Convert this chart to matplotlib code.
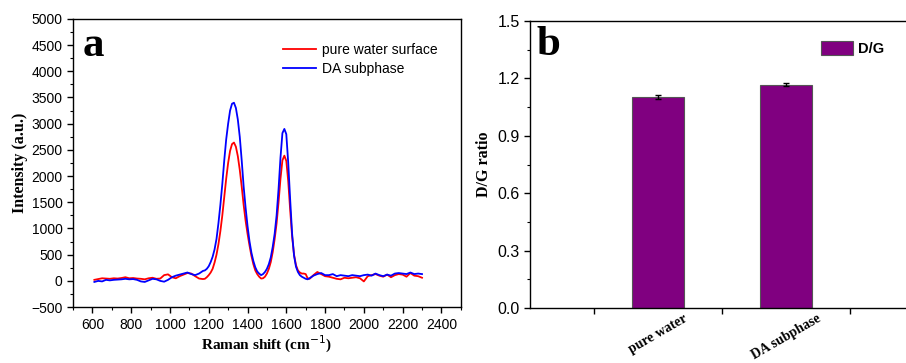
import numpy as np
import matplotlib.pyplot as plt
from matplotlib.ticker import MultipleLocator

# Raman spectra
shift = [610, 630, 650, 670, 690, 710, 730, 750, 770, 790, 810, 830, 850, 870, 890,
         910, 930, 950, 970, 990, 1010, 1030, 1050, 1070, 1090, 1110, 1130, 1150, 1170,
         1180, 1190, 1200, 1210, 1220, 1230, 1240, 1250, 1260, 1270, 1280, 1290, 1300,
         1310, 1320, 1330, 1340, 1350, 1360, 1370, 1380, 1390, 1400, 1410, 1420, 1430,
         1440, 1450, 1460, 1470, 1480, 1490, 1500, 1510, 1520, 1530, 1540, 1550, 1560,
         1570, 1580, 1590, 1600, 1610, 1620, 1630, 1640, 1650, 1660, 1670, 1680, 1690,
         1700, 1710, 1720, 1740, 1760, 1780, 1800, 1820, 1840, 1860, 1880, 1900, 1920,
         1940, 1960, 1980, 2000, 2020, 2040, 2060, 2080, 2100, 2120, 2140, 2160, 2180,
         2200, 2220, 2240, 2260, 2280, 2300]

pure_water = [20, 35, 50, 45, 40, 50, 45, 55, 70, 50, 55, 45, 40, 30, 50,
              60, 40, 45, 110, 125, 70, 50, 90, 120, 150, 140, 90, 45, 35,
              40, 70, 110, 160, 230, 350, 500, 700, 950, 1250, 1600, 1950, 2250,
              2480, 2610, 2640, 2560, 2380, 2120, 1800, 1450, 1150, 900, 680, 480, 320,
              200, 130, 80, 45, 50, 80, 140, 230, 360, 550, 800, 1100, 1500,
              1950, 2300, 2390, 2290, 1900, 1350, 850, 500, 300, 200, 160, 140, 140,
              130, 50, 40, 110, 170, 130, 90, 80, 60, 40, 30, 60, 50,
              60, 70, 50, -10, 90, 110, 130, 100, 80, 120, 70, 110, 130,
              120, 80, 150, 100, 90, 60]

da_subphase = [-20, 0, -10, 20, 10, 20, 25, 30, 40, 30, 35, 20, -10, -20, 10,
               40, 30, 0, -15, 20, 70, 100, 120, 140, 160, 130, 110, 140, 190,
               200, 230, 280, 360, 460, 600, 800, 1100, 1450, 1850, 2300, 2700, 3000,
               3250, 3380, 3400, 3300, 3080, 2750, 2300, 1800, 1400, 1050, 760, 540, 380,
               260, 180, 140, 110, 130, 170, 230, 320, 450, 650, 900, 1250, 1750,
               2350, 2820, 2900, 2800, 2250, 1550, 900, 480, 270, 170, 110, 80, 60,
               40, 30, 50, 100, 130, 150, 110, 110, 130, 90, 110, 100, 90,
               110, 100, 90, 110, 120, 100, 140, 110, 90, 120, 100, 140, 150,
               140, 130, 160, 130, 140, 130]

# D/G ratio bars
samples = ['pure water', 'DA subphase']
ratio = [1.105, 1.168]
ratio_err = [0.010, 0.008]

sans = 'Liberation Sans'
serif = 'Liberation Serif'
plt.rcParams['font.family'] = sans
plt.rcParams['font.size'] = 10

fig = plt.figure(figsize=(9.06, 3.63), dpi=100)

# ---------------- panel a ----------------
ax1 = fig.add_axes([0.0806, 0.154, 0.428, 0.794])
ax1.plot(shift, pure_water, color='#ff0000', lw=1.3, label='pure water surface')
ax1.plot(shift, da_subphase, color='#0000ff', lw=1.3, label='DA subphase')
ax1.set_xlim(500, 2500)
ax1.set_ylim(-500, 5000)
ax1.xaxis.set_minor_locator(MultipleLocator(100))
ax1.yaxis.set_major_locator(MultipleLocator(500))
ax1.yaxis.set_minor_locator(MultipleLocator(250))
ax1.set_xticks(np.arange(600, 2401, 200))
ax1.tick_params(which='major', direction='out', length=4, width=1)
ax1.tick_params(which='minor', direction='out', length=2, width=0.8)
ax1.set_xlabel('Raman shift (cm$^{-1}$)', family=serif, weight='bold', fontsize=11, labelpad=2)
ax1.set_ylabel('Intensity (a.u.)', family=serif, weight='bold', fontsize=11.5, labelpad=2)
ax1.text(0.025, 0.87, 'a', transform=ax1.transAxes, family=serif, weight='bold', fontsize=31)
ax1.legend(loc='upper right', frameon=False, handlelength=2.4, borderaxespad=0.3,
           bbox_to_anchor=(0.965, 0.95), labelspacing=0.35, handletextpad=0.4)
for s in ax1.spines.values():
    s.set_linewidth(1.0)

# ---------------- panel b ----------------
ax2 = fig.add_axes([0.585, 0.1515, 0.424, 0.7905])
pos = np.arange(1, len(samples) + 1)
ax2.bar(pos, ratio, width=0.4, color='#800080', edgecolor='#555555', linewidth=0.8,
        label='D/G', yerr=ratio_err, capsize=2.5,
        error_kw=dict(ecolor='black', elinewidth=1, capthick=1))
ax2.set_xlim(0, 3)
ax2.set_ylim(0, 1.5)
ax2.yaxis.set_major_locator(MultipleLocator(0.3))
ax2.yaxis.set_minor_locator(MultipleLocator(0.15))
ax2.yaxis.set_major_formatter(plt.FormatStrFormatter('%.1f'))
ax2.set_xticks([0.5, 1.5, 2.5], ['', '', ''])
ax2.set_xticks(pos, samples, minor=True)
ax2.tick_params(axis='x', which='minor', length=0, pad=3)
ax2.tick_params(which='major', direction='out', length=4, width=1)
ax2.tick_params(axis='y', which='major', labelsize=11.5)
ax2.tick_params(axis='y', which='minor', direction='out', length=2, width=0.8)
for lab in ax2.get_xticklabels(minor=True):
    lab.set_rotation(30)
    lab.set_family(serif)
    lab.set_weight('bold')
    lab.set_fontsize(10)
    lab.set_ha('center')
    lab.set_va('top')
ax2.set_ylabel('D/G ratio', family=serif, weight='bold', fontsize=11.5, labelpad=4)
ax2.text(0.018, 0.88, 'b', transform=ax2.transAxes, family=serif, weight='bold', fontsize=31)
ax2.legend(loc='upper right', frameon=False, bbox_to_anchor=(0.955, 0.975),
           handlelength=2.2, handleheight=1.1, handletextpad=0.3,
           prop=dict(family=sans, weight='bold', size=10.5))
for s in ax2.spines.values():
    s.set_linewidth(1.0)

fig.savefig('out.png', dpi=100)
